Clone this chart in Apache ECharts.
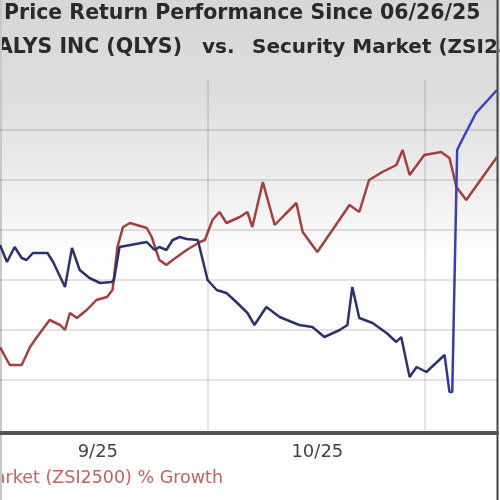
<!DOCTYPE html>
<html>
<head>
<meta charset="utf-8">
<script src="https://cdn.jsdelivr.net/npm/echarts@6/dist/echarts.min.js"></script>
<style>
  html, body { margin: 0; padding: 0; background: #fff; }
  #main { width: 500px; height: 500px; }
</style>
</head>
<body>
<div id="main"></div>
<script>
// x = days since 9/1/25, y = % growth
var qlysDays = [0.3, 1.3, 2.4, 3.4, 4.1, 5.0, 7.1, 7.9, 9.6, 10.6, 11.7, 13.1, 14.6, 16.3, 16.6, 17.4,
  21.3, 22.4, 23.1, 24.1, 25.0, 26.0, 27.0, 28.6, 29.3, 30.0, 31.3, 32.7, 34.1, 35.7, 36.7, 38.4,
  40.3, 43.1, 45.0, 46.7, 48.9, 50.0, 50.7, 51.7, 53.6, 55.6, 57.0, 57.7, 58.9, 59.9, 61.3, 63.9,
  64.6, 65.0, 65.7, 66.4, 68.4, 71.4]
var qlysGrowth = [17, 13.6, 16.6, 14.4, 14, 15.4, 15.4, 13.6, 8.6, 16.4, 12, 10.4, 9.4, 9.6, 10, 16.6,
  17.6, 16, 16.6, 16, 18, 18.6, 18.2, 18, 14, 10, 8, 7.4, 5.6, 3.4, 1, 4.6,
  2.6, 1, 0.6, -1.4, 0, 1, 8.6, 2.4, 1.4, -0.6, -2.4, -1.4, -9.4, -7.4, -8.4, -5,
  -12.4, -12.4, 36, 38, 43.4, 48]

var marketDays = [0.3, 1.3, 1.7, 3.4, 4.6, 5.6, 7.4, 8.9, 9.6, 10.3, 11.3, 12.7, 14.1, 15.6, 16.4, 17.1,
  17.9, 18.9, 21.3, 22.0, 23.1, 24.1, 25.0, 27.0, 28.9, 29.6, 30.7, 31.7, 32.7, 34.6, 35.7, 36.4,
  37.9, 39.6, 41.0, 42.7, 43.6, 45.7, 50.3, 51.7, 53.1, 55.0, 57.0, 57.9, 58.9, 61.0, 63.4, 64.6,
  65.6, 67.0, 71.4]
var marketGrowth = [-3.4, -6, -7, -7, -3.4, -1.4, 2, 1, 0, 3.4, 2.4, 4, 6, 6.6, 8, 16.6,
  20.6, 21.4, 20.4, 18.6, 14, 13, 14, 16, 17.6, 18, 22, 23.6, 21.4, 22.6, 23.6, 20.6,
  29.6, 21, 23, 25.4, 19.6, 15.6, 25, 23.6, 30, 31.6, 33, 36, 31, 35, 35.6, 34.4,
  28.6, 26, 34.6]

var monthStarts = [30, 61]          // 10/1, 11/1
var monthLabelDays = [14.3, 45.7]   // label centres
var monthLabels = ['9/25', '10/25']

var titleLine1 = 'Price Return Performance Since 06/26/25'
var stockName = 'QUALYS INC (QLYS)'
var marketName = 'Security Market (ZSI2500)'

function zip (xs, ys) {
  return xs.map(function (x, i) { return [x, ys[i]] })
}

var myChart = echarts.init(document.getElementById('main'), null, { renderer: 'canvas' })

myChart.setOption({
  animation: false,
  graphic: [
    {
      type: 'rect',
      z: -10,
      silent: true,
      shape: { x: 0, y: 0, width: 500, height: 500 },
      style: {
        fill: {
          type: 'linear', x: 0, y: 0, x2: 0, y2: 1,
          colorStops: [
            { offset: 0, color: '#d6d6d6' },
            { offset: 0.2, color: '#dedede' },
            { offset: 0.42, color: '#f3f3f3' },
            { offset: 0.52, color: '#ffffff' },
            { offset: 1, color: '#ffffff' }
          ]
        }
      }
    },
    {
      type: 'text', x: 4, y: 14,
      style: { text: titleLine1, font: 'bold 20.5px "DejaVu Sans"', fill: '#2a2a2a', verticalAlign: 'middle' }
    },
    {
      type: 'text', x: 182, y: 48,
      style: { text: stockName, font: 'bold 20.5px "DejaVu Sans"', fill: '#2a2a2a', align: 'right', verticalAlign: 'middle' }
    },
    {
      type: 'text', x: 202, y: 48,
      style: { text: 'vs.', font: 'bold 20px "DejaVu Sans"', fill: '#2a2a2a', verticalAlign: 'middle' }
    },
    {
      type: 'text', x: 252, y: 48,
      style: { text: marketName, font: 'bold 20px "DejaVu Sans"', fill: '#2a2a2a', verticalAlign: 'middle' }
    },
    {
      type: 'text', x: 223, y: 478,
      style: { text: marketName + ' % Growth', font: '17.5px "DejaVu Sans"', fill: '#c66060', align: 'right', verticalAlign: 'middle' }
    },
    {
      type: 'line', silent: true,
      shape: { x1: 1, y1: 0, x2: 1, y2: 500 },
      style: { stroke: '#c8c8c8', lineWidth: 2 }
    },
    {
      type: 'line', silent: true,
      shape: { x1: 497.5, y1: 0, x2: 497.5, y2: 500 },
      style: { stroke: '#444', lineWidth: 2 }
    }
  ],
  grid: {
    left: 0,
    right: 3,
    top: 80,
    bottom: 70
  },
  xAxis: {
    type: 'value',
    min: 0.3,
    max: 71.4,
    offset: 3,
    axisLine: { show: true, onZero: false, lineStyle: { color: '#555', width: 4 } },
    axisTick: { show: false },
    splitLine: { show: false },
    axisLabel: {
      customValues: monthLabelDays,
      formatter: function (v) {
        var i = monthLabelDays.indexOf(v)
        return i >= 0 ? monthLabels[i] : ''
      },
      margin: 10,
      color: '#444',
      fontSize: 18,
      fontFamily: 'DejaVu Sans'
    }
  },
  yAxis: {
    type: 'value',
    min: -20,
    max: 50,
    interval: 10,
    axisLine: { show: false },
    axisTick: { show: false },
    axisLabel: { show: false },
    splitLine: {
      show: true,
      showMinLine: false,
      showMaxLine: false,
      lineStyle: { color: 'rgba(0,0,0,0.11)', width: 2 }
    }
  },
  series: [
    {
      name: marketName,
      type: 'line',
      data: zip(marketDays, marketGrowth),
      showSymbol: false,
      lineStyle: { color: '#a3403e', width: 2.5 },
      z: 3,
      markLine: {
        silent: true,
        symbol: 'none',
        label: { show: false },
        lineStyle: { color: 'rgba(0,0,0,0.1)', width: 2, type: 'solid' },
        data: monthStarts.map(function (d) { return { xAxis: d } })
      }
    },
    {
      name: stockName,
      type: 'line',
      data: zip(qlysDays, qlysGrowth),
      showSymbol: false,
      lineStyle: {
        width: 2.5,
        color: {
          type: 'linear', x: 0, y: 0, x2: 1, y2: 0,
          colorStops: [
            { offset: 0, color: '#2e3170' },
            { offset: 0.88, color: '#2e3170' },
            { offset: 0.92, color: '#3a42c2' },
            { offset: 1, color: '#3a42c2' }
          ]
        }
      },
      z: 4
    }
  ]
})
</script>
</body>
</html>
